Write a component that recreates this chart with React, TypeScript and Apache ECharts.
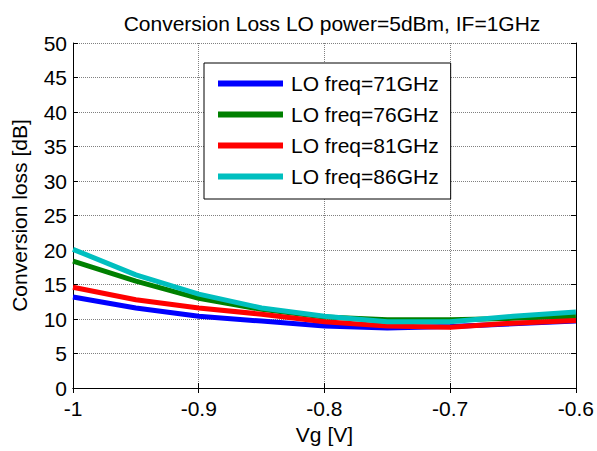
import React, { useEffect, useRef } from "react";
import * as echarts from "echarts";

const vg = [-1, -0.95, -0.9, -0.85, -0.8, -0.75, -0.7, -0.65, -0.6];
const lo71 = [13.2, 11.6, 10.4, 9.7, 9.0, 8.7, 8.9, 9.3, 9.7];
const lo76 = [18.4, 15.5, 13.0, 11.4, 10.3, 9.9, 9.9, 10.1, 10.4];
const lo81 = [14.6, 12.8, 11.6, 10.7, 9.6, 9.0, 8.8, 9.4, 9.8];
const lo86 = [20.1, 16.4, 13.6, 11.6, 10.4, 9.6, 9.6, 10.4, 11.0];
const seriesNames = ["LO freq=71GHz", "LO freq=76GHz", "LO freq=81GHz", "LO freq=86GHz"];
const seriesColors = ["#0000FF", "#008000", "#FF0000", "#00BFBF"];
const titleText = "Conversion Loss LO power=5dBm, IF=1GHz";
const xName = "Vg [V]";
const yName = "Conversion loss [dB]";

const FONT = "'Liberation Sans', Arial, sans-serif";
const FS = 21;

export default function App() {
  const ref = useRef<HTMLDivElement>(null);
  useEffect(() => {
    if (!ref.current) return;
    const chart = echarts.init(ref.current, undefined, { renderer: "svg" });
    const all = [lo71, lo76, lo81, lo86];
    const axisLine = { show: true, lineStyle: { color: "#000", width: 1 } };
    const tick = { show: true, inside: true, length: 5, lineStyle: { color: "#000" } };
    chart.setOption({
      animation: false,
      backgroundColor: "#fff",
      textStyle: { fontFamily: FONT },
      title: {
        text: titleText,
        left: 327,
        top: 8,
        textAlign: "center",
        textStyle: { fontFamily: FONT, fontSize: FS, fontWeight: "normal", color: "#000" },
      },
      grid: { left: 73, right: 15, top: 43, bottom: 63, containLabel: false },
      legend: {
        orient: "vertical",
        left: 204,
        top: 63,
        padding: [10, 12, 12, 14],
        itemWidth: 65,
        itemHeight: 6,
        itemGap: 10,
        borderColor: "#000",
        borderWidth: 1,
        backgroundColor: "#fff",
        textStyle: { fontFamily: FONT, fontSize: FS, color: "#000", lineHeight: 21, padding: [0, 0, 0, 3] },
        data: seriesNames.map((n) => ({ name: n, icon: "rect" })),
      },
      xAxis: [
        {
          type: "value",
          min: -1,
          max: -0.6,
          interval: 0.1,
          position: "bottom",
          name: xName,
          nameLocation: "middle",
          nameGap: 36,
          nameTextStyle: { fontFamily: FONT, fontSize: FS, color: "#000" },
          axisLine,
          axisTick: tick,
          axisLabel: { fontFamily: FONT, fontSize: FS, color: "#000", margin: 10 },
          splitLine: { show: true, lineStyle: { color: "#808080", type: "dotted", width: 1 } },
        },
        {
          type: "value",
          min: -1,
          max: -0.6,
          interval: 0.1,
          position: "top",
          axisLine,
          axisTick: tick,
          axisLabel: { show: false },
          splitLine: { show: false },
        },
      ],
      yAxis: [
        {
          type: "value",
          min: 0,
          max: 50,
          interval: 5,
          position: "left",
          name: yName,
          nameLocation: "middle",
          nameGap: 43,
          nameTextStyle: { fontFamily: FONT, fontSize: FS, color: "#000" },
          axisLine,
          axisTick: tick,
          axisLabel: { fontFamily: FONT, fontSize: FS, color: "#000", margin: 6 },
          splitLine: { show: true, lineStyle: { color: "#808080", type: "dotted", width: 1 } },
        },
        {
          type: "value",
          min: 0,
          max: 50,
          interval: 5,
          position: "right",
          axisLine,
          axisTick: tick,
          axisLabel: { show: false },
          splitLine: { show: false },
        },
      ],
      series: seriesNames.map((name, i) => ({
        name,
        type: "line",
        xAxisIndex: 0,
        yAxisIndex: 0,
        data: vg.map((x, j) => [x, all[i][j]]),
        showSymbol: false,
        symbol: "none",
        lineStyle: { color: seriesColors[i], width: 5 },
        itemStyle: { color: seriesColors[i] },
        z: 2 + i,
      })),
    });
    return () => chart.dispose();
  }, []);
  return (
    <div
      ref={ref}
      style={{ position: "fixed", left: 0, top: 0, width: 597, height: 451, background: "#fff" }}
    />
  );
}
